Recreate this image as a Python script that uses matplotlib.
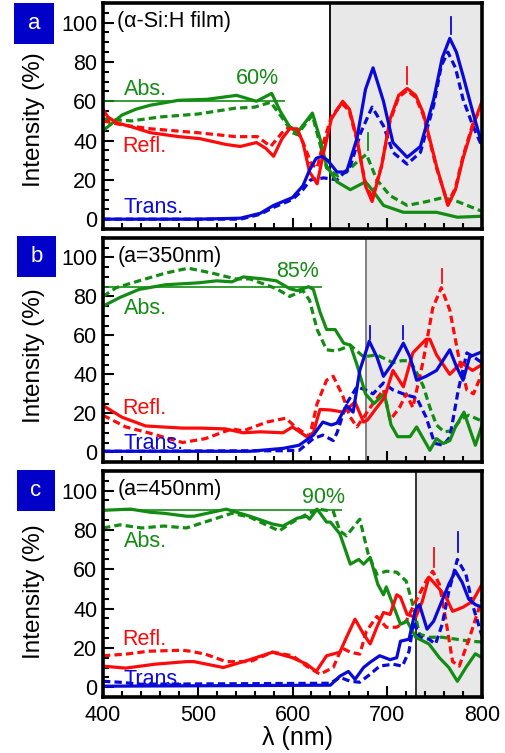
import matplotlib
matplotlib.use("Agg")
import matplotlib.pyplot as plt
from matplotlib.patches import Rectangle
from matplotlib.ticker import MultipleLocator

plt.rcParams['font.family'] = ['Liberation Sans', 'DejaVu Sans']

GREEN = '#138c13'
RED = '#ff0a0a'
BLUE = '#0a0ad8'
BOXBLUE = '#0000c8'

# ---------------- panel a (a-Si:H film) ----------------
a_abs_s_x = [400, 410, 420, 435, 450, 480, 510, 541, 562, 578, 587, 597, 605, 613, 621, 629, 636, 647, 661, 677, 684, 696, 717, 752, 774, 800]
a_abs_s_y = [45, 49, 53, 56, 58, 60.5, 61, 63, 60, 64, 55, 47, 44, 49, 54, 41, 27, 19, 15, 19, 15, 7, 3.5, 3.5, 1, 1.5]
a_abs_d_x = [400, 430, 460, 500, 540, 560, 577, 590, 600, 605, 613, 621, 628, 636, 648, 657, 670, 678, 689, 703, 721, 742, 759, 774, 800]
a_abs_d_y = [51, 50, 52, 53.5, 56.5, 57, 59.5, 51, 44, 43, 48, 53, 40, 26, 22, 24, 30, 33, 20, 12, 7, 9, 11, 9, 4]
a_ref_s_x = [400, 405, 415, 430, 450, 480, 502, 530, 545, 562, 572, 580, 589, 597, 605, 611, 618, 626, 632, 641, 653, 660, 668, 677, 684, 694, 703, 712, 721, 730, 738, 752, 764, 772, 780, 790, 800]
a_ref_s_y = [56, 52, 49, 47, 44, 42, 41, 38, 37, 39, 36, 32, 41, 46, 46, 39, 24, 18, 32, 51, 60, 56, 41, 17, 9, 27, 51, 63, 66.5, 63, 54, 27, 7, 15, 31, 47, 60]
a_ref_d_x = [400, 420, 450, 500, 540, 563, 577, 589, 597, 605, 612, 620, 626, 632, 641, 652, 660, 668, 677, 684, 694, 703, 712, 721, 730, 738, 752, 764, 772, 780, 790, 800]
a_ref_d_y = [50, 48, 46, 44, 42, 42, 37, 44, 47, 45, 38, 28, 26, 38, 52, 59, 55, 40, 18, 11, 27, 50, 62, 65.5, 62, 53, 26, 8, 16, 32, 48, 58]
a_tra_s_x = [400, 500, 545, 566, 580, 600, 611, 618, 625, 631, 637, 647, 657, 668, 677, 685, 696, 706, 721, 735, 749, 758, 766, 773, 780, 790, 800]
a_tra_s_y = [0, 0, 0.5, 3, 7, 11, 17, 25, 31, 32, 30, 24, 24, 41, 66, 77, 60, 39, 31.5, 37, 61, 82, 92, 85, 73, 55, 38]
a_tra_d_x = [400, 545, 566, 580, 600, 611, 619, 633, 647, 661, 672, 684, 696, 706, 721, 735, 749, 757, 764, 772, 780, 790, 800]
a_tra_d_y = [0, 0, 2.5, 6, 10, 15, 20, 21, 20, 27, 44, 57, 47.5, 34, 28, 34, 58, 78, 85, 77, 61, 48, 37]

# ---------------- panel b (a=350nm) ----------------
b_abs_s_x = [400, 418, 438, 466, 501, 520, 536, 548, 569, 583, 597, 605, 617, 622, 629, 636, 645, 654, 661, 668, 677, 686, 697, 704, 711, 724, 731, 738, 745, 752, 759, 766, 772, 781, 787, 793, 800]
b_abs_s_y = [75, 79.5, 83.6, 86, 87, 88, 87.5, 90, 89, 88, 84, 83, 85, 83.6, 72, 63, 63, 56, 55, 45, 30, 25, 30, 14, 8, 8, 13, 7, 1, 7, 4.5, 6, 13, 20.6, 12, 3.6, 14]
b_abs_d_x = [400, 414, 438, 466, 490, 515, 540, 555, 583, 597, 611, 618, 626, 636, 646, 657, 661, 675, 689, 706, 715, 724, 731, 738, 745, 752, 760, 768, 778, 786, 800]
b_abs_d_y = [80, 84.5, 88, 92, 94.5, 92, 89, 89, 84, 80, 83, 78, 63, 52.6, 52, 54, 55, 49, 50, 46, 47, 47, 41, 34, 23, 14, 10.5, 11, 17, 19, 16]
b_ref_s_x = [400, 420, 445, 484, 502, 529, 548, 566, 590, 600, 615, 622, 629, 640, 654, 666, 675, 679, 689, 697, 706, 717, 727, 741, 745, 752, 766, 778, 790, 800]
b_ref_s_y = [24, 18, 13.5, 12.4, 12.4, 12, 10, 10.5, 10, 13, 8, 10, 22, 21.7, 20.6, 25.8, 15.5, 16.5, 23, 28, 42, 33.6, 51, 58, 58, 50, 40, 46, 42, 45]
b_ref_d_x = [400, 424, 448, 484, 508, 536, 548, 573, 593, 603, 618, 626, 636, 643, 653, 661, 668, 685, 696, 703, 713, 720, 727, 738, 748, 757, 766, 775, 784, 791, 797, 800]
b_ref_d_y = [19, 13, 10, 5, 7, 12, 11, 15.5, 17.5, 13, 8, 25, 37, 39, 29, 18, 13, 25, 32, 16.5, 23, 30, 23, 47, 74, 84.5, 73, 50, 32, 30, 37, 42]
b_tra_s_x = [400, 555, 590, 607, 622, 632, 641, 647, 657, 664, 671, 681, 689, 696, 706, 717, 724, 731, 741, 752, 766, 773, 780, 787, 800]
b_tra_s_y = [0.5, 0.5, 2, 3.6, 8.8, 15.5, 14, 15, 24, 20.6, 42, 57, 49, 39, 46, 56, 49, 37, 39, 42, 52.6, 44, 37, 49, 51.6]
b_tra_d_x = [400, 590, 607, 622, 632, 643, 647, 657, 668, 677, 685, 696, 706, 720, 731, 741, 750, 759, 766, 775, 784, 791, 800]
b_tra_d_y = [0.5, 0.8, 1, 7, 8.8, 6, 10, 25, 33.6, 32, 30, 35.6, 32, 29.4, 28, 18, 4.6, 3.6, 7.7, 32, 51, 49, 46]

# ---------------- panel c (a=450nm) ----------------
c_abs_s_x = [400, 429, 450, 464, 488, 496, 530, 555, 579, 590, 605, 615, 618, 626, 636, 640, 650, 661, 670, 675, 682, 690, 696, 699, 706, 714, 721, 730, 744, 755, 765, 774, 783, 793, 800]
c_abs_s_y = [90, 90.6, 89, 88.5, 87, 87, 90.6, 87, 83, 82, 86, 87, 85.5, 90.6, 84, 84, 78, 62.6, 65, 62.6, 66, 52.4, 47, 51, 42, 32, 33.6, 25.4, 22, 15, 10, 3, 10, 17, 15]
c_abs_d_x = [400, 418, 441, 464, 488, 517, 536, 555, 566, 586, 600, 615, 627, 643, 650, 657, 671, 680, 689, 699, 710, 720, 727, 734, 744, 758, 773, 787, 800]
c_abs_d_y = [81, 82.6, 81, 82, 81, 85.5, 88.5, 86.5, 84, 79.5, 84, 88, 90.6, 89.5, 79.5, 77, 85.5, 67.6, 57.5, 59, 58.5, 54, 42, 27, 25.4, 25.4, 24.4, 23.4, 23]
c_ref_s_x = [400, 424, 455, 488, 496, 527, 555, 579, 600, 615, 625, 636, 650, 657, 666, 675, 682, 689, 696, 703, 710, 714, 721, 730, 737, 744, 755, 762, 769, 780, 790, 800]
c_ref_s_y = [10.7, 9.7, 11.7, 13, 13, 10, 14, 17.8, 15, 11.7, 8, 16, 17.8, 25.4, 34.6, 27, 22, 30.5, 38, 37, 47, 45.8, 37, 35.6, 43.7, 56, 50, 45.8, 38.6, 40.7, 43.7, 52.4]
c_ref_d_x = [400, 424, 448, 484, 492, 508, 530, 555, 579, 600, 615, 629, 643, 652, 661, 671, 678, 689, 699, 710, 720, 730, 741, 748, 755, 762, 769, 776, 787, 800]
c_ref_d_y = [16, 16.8, 18.3, 18.8, 18.3, 16.8, 13, 13, 17.8, 16, 10.7, 6.6, 10, 20, 17.8, 16.8, 28.5, 36, 30.5, 30.5, 33.6, 43.7, 54, 59, 52.4, 33.6, 13, 10.7, 25.4, 45]
c_tra_s_x = [400, 640, 650, 659, 666, 675, 682, 692, 703, 710, 714, 723, 730, 734, 742, 749, 755, 765, 772, 779, 786, 793, 800]
c_tra_s_y = [0.5, 1, 5.6, 8, 4, 10, 12.7, 16, 14, 15, 23.4, 24.4, 39.7, 42, 29.5, 33.6, 40.7, 52.4, 59, 53.4, 44.8, 42, 40.7]
c_tra_d_x = [400, 418, 440, 640, 650, 661, 671, 682, 692, 706, 716, 723, 728, 734, 744, 751, 758, 765, 774, 783, 790, 800]
c_tra_d_y = [3, 2.5, 1.5, 2, 5, 3, 2.5, 6.6, 10.7, 11.7, 10.7, 18.3, 33.6, 25.4, 24.4, 22, 32, 48.8, 65, 57.5, 42, 26]

# panel settings
panel_letters = ['a', 'b', 'c']
panel_titles = ['(\u03b1-Si:H film)', '(a=350nm)', '(a=450nm)']
gray_start = [640, 678, 730]
gray_edge = ['#111111', '#808080', '#333333']
abs_level = [60, 85, 90]
abs_level_end = [592, 631, 652]
level_text = ['60%', '85%', '90%']
level_text_pos = [(540, 71.5), (583, 93), (610, 96.6)]
abs_text_y = [66, 74, 74]
refl_text_y = [37, 22.7, 24.4]
trans_text_y = [6, 4.6, 4]
# peak markers: (wavelength, y0, y1, color)
peak_marks = [
    [(680, 35, 44, GREEN), (721, 69, 77.5, RED), (767, 94, 103, BLUE)],
    [(682, 58, 65, BLUE), (717, 58, 65, BLUE), (758, 87, 94, RED)],
    [(749, 61, 71, RED), (775, 69, 79, BLUE)],
]

series = [
    [(a_abs_s_x, a_abs_s_y, a_abs_d_x, a_abs_d_y),
     (a_ref_s_x, a_ref_s_y, a_ref_d_x, a_ref_d_y),
     (a_tra_s_x, a_tra_s_y, a_tra_d_x, a_tra_d_y)],
    [(b_abs_s_x, b_abs_s_y, b_abs_d_x, b_abs_d_y),
     (b_ref_s_x, b_ref_s_y, b_ref_d_x, b_ref_d_y),
     (b_tra_s_x, b_tra_s_y, b_tra_d_x, b_tra_d_y)],
    [(c_abs_s_x, c_abs_s_y, c_abs_d_x, c_abs_d_y),
     (c_ref_s_x, c_ref_s_y, c_ref_d_x, c_ref_d_y),
     (c_tra_s_x, c_tra_s_y, c_tra_d_x, c_tra_d_y)],
]
colors = [GREEN, RED, BLUE]

W, H = 506, 753
fig = plt.figure(figsize=(W / 100, H / 100), dpi=100)

# pixel boxes (left, top, right, bottom) of the three axes
ax_px = [(103, 3, 482, 229), (103, 238, 482, 462), (103, 471, 482, 697)]
box_px = [(14, 3, 54, 44), (17, 236, 56, 277), (17, 470, 55, 511)]
ylab_py = [120, 356, 592]

for i in range(3):
    l, t, r, b = ax_px[i]
    ax = fig.add_axes([l / W, 1 - b / H, (r - l) / W, (b - t) / H])
    ax.set_xlim(400, 800)
    ax.set_ylim(-5, 110)

    ax.axvspan(gray_start[i], 800, color='#e8e8e8', zorder=0, lw=0)
    ax.axvline(gray_start[i], color=gray_edge[i], lw=1.4, zorder=1)

    for (sx, sy, dx, dy), c in zip(series[i], colors):
        ax.plot(dx, dy, color=c, lw=2.3, ls=(0, (2.3, 1.3)), zorder=3)
        ax.plot(sx, sy, color=c, lw=2.3, zorder=4)

    ax.hlines(abs_level[i], 400, abs_level_end[i], color=GREEN, lw=1.2, zorder=5)
    for (wl, y0, y1, c) in peak_marks[i]:
        ax.plot([wl, wl], [y0, y1], color=c, lw=1.3, zorder=5)

    fs = 15.5
    ax.text(415, 100.5, panel_titles[i], fontsize=fs, va='center', ha='left')
    ax.text(level_text_pos[i][0], level_text_pos[i][1], level_text[i], color=GREEN,
            fontsize=fs, va='center', ha='left')
    ax.text(422, abs_text_y[i], 'Abs.', color=GREEN, fontsize=fs, va='center')
    ax.text(420, refl_text_y[i], 'Refl.', color=RED, fontsize=fs, va='center')
    ax.text(422, trans_text_y[i], 'Trans.', color=BLUE, fontsize=fs, va='center')

    ax.xaxis.set_major_locator(MultipleLocator(100))
    ax.xaxis.set_minor_locator(MultipleLocator(20))
    ax.yaxis.set_major_locator(MultipleLocator(20))
    ax.yaxis.set_minor_locator(MultipleLocator(5))
    ax.set_yticks([0, 20, 40, 60, 80, 100])
    ax.tick_params(which='both', direction='in', top=False, right=False, width=1.5)
    ax.tick_params(which='major', length=8, labelsize=15.5)
    ax.tick_params(axis='y', which='major', pad=4)
    ax.tick_params(axis='x', which='major', pad=6)
    ax.tick_params(which='minor', length=4.5)
    if i < 2:
        ax.tick_params(axis='x', labelbottom=False)
    for s in ax.spines.values():
        s.set_linewidth(2.6)
        s.set_zorder(6)

    bx0, by0, bx1, by1 = box_px[i]
    fig.add_artist(Rectangle((bx0 / W, 1 - by1 / H), (bx1 - bx0) / W, (by1 - by0) / H,
                             transform=fig.transFigure, facecolor=BOXBLUE, edgecolor='none'))
    fig.text((bx0 + bx1) / 2 / W, 1 - (by0 + by1) / 2 / H, panel_letters[i], color='white',
             fontsize=16, ha='center', va='center')
    fig.text(34 / W, 1 - ylab_py[i] / H, 'Intensity (%)', rotation=90, fontsize=17.5,
             ha='center', va='center')

fig.text(297 / W, 1 - 738 / H, '\u03bb (nm)', fontsize=18, ha='center', va='center')

fig.savefig('out.png', dpi=100)
